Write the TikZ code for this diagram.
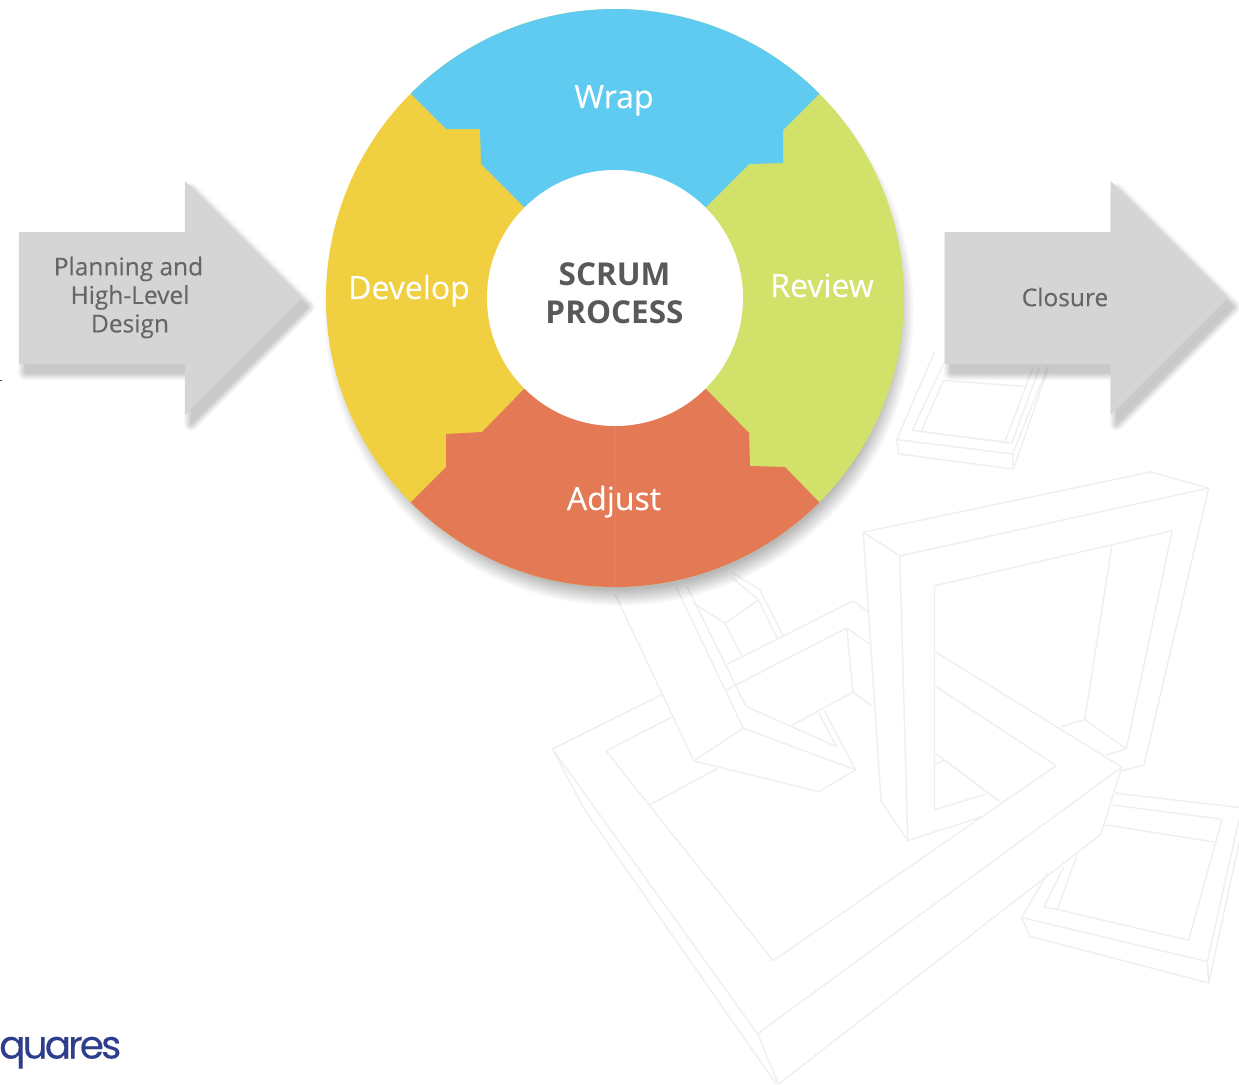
\documentclass[tikz,border=0pt]{standalone}
\usepackage{fontspec}
\setmainfont{Open Sans}
\newfontfamily\ringfont[FakeBold=0.25]{Open Sans}
\newfontfamily\boldfont{Open Sans Bold}
\newfontfamily\logofont[LetterSpace=-7.5,FakeBold=0.15]{Poppins}
\definecolor{wrapc}{HTML}{5FCBF0}
\definecolor{devc}{HTML}{F0D040}
\definecolor{revc}{HTML}{D1E169}
\definecolor{adjc}{HTML}{E47A55}
\definecolor{arrc}{HTML}{D5D5D5}
\definecolor{greytxt}{HTML}{666666}
\definecolor{darktxt}{HTML}{58595B}
\definecolor{sketchc}{HTML}{EFEFEF}
\definecolor{logoc}{HTML}{2F3E8C}
\tikzset{
  sk/.style={draw=sketchc,line width=1.4pt,line join=round},
  ringlabel/.style={anchor=base,text=white,font=\ringfont\fontsize{32}{32}\selectfont,inner sep=0pt},
  arrowlabel/.style={text=greytxt,font=\ringfont\fontsize{24.5}{28.5}\selectfont,align=center,inner sep=0pt},
  centerlabel/.style={text=darktxt,font=\boldfont\fontsize{31.5}{38}\selectfont,align=center,inner sep=0pt},
  arrowbody/.style={fill=arrc},
}
\newcommand{\arrowshape}[1]{%
  \begin{scope}[shift={(#1,0)}]
    \foreach \w in {14,12,10,8,6,4,2,0.5}{
      \begin{scope}[transparency group,opacity=.028]
      \filldraw[black,line join=round,line width=\w pt]
        (6,241) -- (172,241) -- (172,190) -- (289,307) -- (172,424) -- (172,373) -- (6,373) -- cycle;
      \end{scope}
    }
    \path[arrowbody] (0,232) -- (166,232) -- (166,181) -- (283,298) -- (166,415) -- (166,364) -- (0,364) -- cycle;
  \end{scope}}
\begin{document}
\begin{tikzpicture}[x=1pt,y=-1pt]
\useasboundingbox (0,0) rectangle (1239,1084);
\clip (0,0) rectangle (1239,1084);
\fill[white] (0,0) rectangle (1239,1084);
% background sketch
\begin{scope}[shift={(540,340)},xscale=0.4458,yscale=0.4745]
  % base frame
  \draw[sk] (272,748) -- (28,862) -- (488,1462) -- (1305,900) -- (888,658);
  \draw[sk] (295,795) -- (148,866) -- (523,1308) -- (1158,897) -- (888,730);
  \draw[sk] (28,862) -- (100,990) -- (530,1568);
  \draw[sk] (488,1462) -- (535,1568) -- (1258,1042) -- (1305,900);
  \draw[sk] (245,980) -- (398,903);
  % diagonal beam
  \draw[sk] (168,535) -- (345,887) -- (456,818) -- (305,520);
  \draw[sk] (456,818) -- (708,906) -- (625,952) -- (345,887);
  \draw[sk] (330,520) -- (462,772) -- (665,857) -- (625,785);
  \draw[sk] (637,780) -- (708,906);
  \draw[sk] (420,683) -- (702,550) -- (735,572);
  \draw[sk] (418,737) -- (688,607) -- (738,640);
  \draw[sk] (688,607) -- (702,742) -- (745,772);
  \draw[sk] (702,742) -- (565,812);
  \draw[sk] (345,555) -- (415,597) -- (490,548) -- (532,628);
  \draw[sk] (415,597) -- (452,665);
  \draw[sk] (430,490) -- (492,525) -- (545,622);
  \draw[sk] (490,548) -- (430,500);
  % upright frame
  \draw[sk] (725,405) -- (1370,278) -- (1500,312) -- (807,455) -- cycle;
  \draw[sk] (725,405) -- (765,972) -- (825,1055) -- (807,455);
  \draw[sk] (1500,312) -- (1355,895) -- (1305,908);
  \draw[sk] (825,1055) -- (990,1005);
  \draw[sk] (1000,957) -- (885,990) -- (885,518) -- (1418,402) -- (1315,862) -- (1222,800) -- (1283,432);
  \draw[sk] (1222,800) -- (1168,815);
  \draw[sk] (1315,862) -- (1270,875);
  \draw[sk] (885,895) -- (908,885) -- (1030,972);
  \draw[sk] (888,872) -- (1030,972);
  % upper tray
  \draw[sk] (885,25) -- (800,210) -- (1060,240) -- (1140,55);
  \draw[sk] (800,210) -- (805,240) -- (1062,272) -- (1060,240);
  \draw[sk] (1062,272) -- (1140,60);
  \draw[sk] (905,50) -- (835,190) -- (1058,218) -- (1120,60);
  \draw[sk] (905,85) -- (855,193) -- (1043,215) -- (1105,60);
  \draw[sk] (905,85) -- (1090,98);
  % lower tray
  \draw[sk] (1290,955) -- (1568,985);
  \draw[sk] (1285,980) -- (1530,1010) -- (1455,1265) -- (1160,1200) -- (1205,1085);
  \draw[sk] (1270,1022) -- (1512,1058);
  \draw[sk] (1175,1110) -- (1130,1195) -- (1160,1200);
  \draw[sk] (1138,1125) -- (1080,1217) -- (1497,1310) -- (1568,1010);
  \draw[sk] (1080,1217) -- (1100,1257) -- (1500,1355) -- (1497,1310);
  \draw[sk] (1500,1355) -- (1568,1060);
\end{scope}
% arrows
\arrowshape{19}
\arrowshape{944.5}
% ring shadow
\foreach \r in {295,294,...,278}{
  \fill[black,opacity=.017] (619,311) circle[radius=\r];
}
% ring
\begin{scope}
  \clip (615,298) circle[radius=289];
  \fill[devc] (300,-10) rectangle (615,610);
  \fill[revc] (615,-10) rectangle (930,610);
  \fill[wrapc] (411,94) -- (446,129) -- (480,129) -- (481,164) -- (524,207) -- (615,298)
     -- (706,207) -- (749,164) -- (783,163) -- (783,130) -- (819,94) -- (900,13) -- (900,-20) -- (330,-20) -- (330,13) -- cycle;
  \fill[adjc] (524,389) -- (482,432) -- (446,434) -- (446,467) -- (411,502) -- (330,583) -- (330,620) -- (900,620) -- (900,583)
     -- (819,502) -- (785,467) -- (750,466) -- (749,433) -- (706,389) -- (615,298) -- cycle;
  \draw[white,opacity=.05,line width=.8pt] (615,0) -- (615,600) (320,298) -- (910,298);
\end{scope}
\fill[white] (615,298) circle[radius=128];
% labels
\node[centerlabel] (scrum) at (614.5,293) {SCRUM\\PROCESS};
\node[ringlabel] (wrap) at (614,108) {Wrap};
\node[ringlabel] (develop) at (409,299) {Develop};
\node[ringlabel] (review) at (822,297) {Review};
\node[ringlabel] (adjust) at (614,510) {Adjust};
\node[arrowlabel] (plan) at (130,297.5) {Planning and\kern3pt\\High-Level\\Design};
\node[arrowlabel] (closure) at (1065,297) {Closure};
\node[anchor=base west,inner sep=0pt,text=logoc,font=\logofont\fontsize{39}{39}\selectfont] (logo) at (-1,1058.5) {quares};
\fill[black!70] (0,379.5) rectangle (2,381);
\end{tikzpicture}
\end{document}
